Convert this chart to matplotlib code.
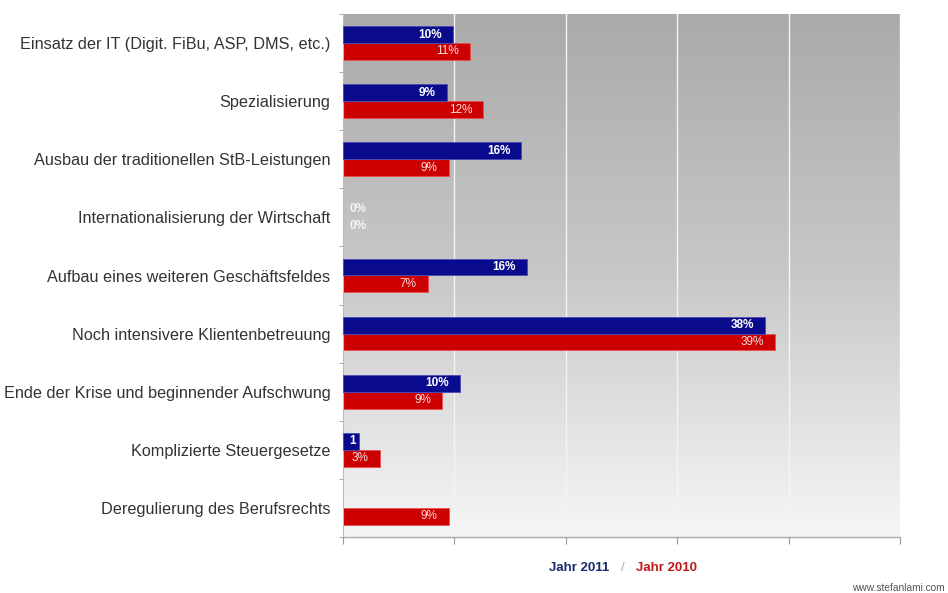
import matplotlib
matplotlib.use("Agg")
import matplotlib.pyplot as plt
import numpy as np
from matplotlib.colors import LinearSegmentedColormap

categories = [
    "Einsatz der IT (Digit. FiBu, ASP, DMS, etc.)",
    "Spezialisierung",
    "Ausbau der traditionellen StB-Leistungen",
    "Internationalisierung der Wirtschaft",
    "Aufbau eines weiteren Geschäftsfeldes",
    "Noch intensivere Klientenbetreuung",
    "Ende der Krise und beginnender Aufschwung",
    "Komplizierte Steuergesetze",
    "Deregulierung des Berufsrechts",
]
values_2011 = [9.9, 9.3, 16.0, 0.0, 16.5, 37.9, 10.5, 1.4, None]
labels_2011 = ["10%", "9%", "16%", "0%", "16%", "38%", "10%", "1", None]
values_2010 = [11.4, 12.6, 9.5, 0.0, 7.6, 38.8, 8.9, 3.3, 9.5]
labels_2010 = ["11%", "12%", "9%", "0%", "7%", "39%", "9%", "3%", "9%"]
x_ticks = [0, 10, 20, 30, 40, 50]
legend_2011 = "Jahr 2011"
legend_2010 = "Jahr 2010"
watermark = "www.stefanlami.com"

plt.rcParams['font.family'] = ['Liberation Sans', 'DejaVu Sans']

BLUE = "#0a0a8c"
RED = "#cc0000"

fig = plt.figure(figsize=(9.48, 5.93), dpi=100)
W, H = 948, 593
ax = fig.add_axes([343 / W, 1 - 537 / H, (900 - 343) / W, (537 - 14) / H])

n = len(categories)
y = np.arange(n)

# background gradient
cmap = LinearSegmentedColormap.from_list("bg", ["#aaaaaa", "#c8c8c8", "#f6f6f6"])
grad = np.linspace(0, 1, 256).reshape(-1, 1)
ax.imshow(grad, aspect="auto", cmap=cmap, extent=[0, 50, n - 0.5, -0.5],
          zorder=0, interpolation="bicubic")

for gx in x_ticks[1:]:
    ax.axvline(gx, color="#f4f4f4", lw=1.0, zorder=1)

h = 0.29
for i in range(n):
    v = values_2011[i]
    if v is not None and v > 0:
        ax.barh(y[i] - h / 2, v, height=h, color=BLUE, edgecolor="#4a4ab8",
                linewidth=0.6, zorder=3)
    v2 = values_2010[i]
    if v2 is not None and v2 > 0:
        ax.barh(y[i] + h / 2, v2, height=h, color=RED, edgecolor="#e85050",
                linewidth=0.6, zorder=2)

def put_label(val, txt, yy, color, weight):
    if txt is None:
        return
    if val == 0:
        ax.annotate(txt, (0, yy), xytext=(5, 0), textcoords="offset points",
                    ha="left", va="center", color="#f4f4f4", fontsize=8.5,
                    fontweight="bold", zorder=5)
    elif val < 2:
        ax.annotate(txt, (val, yy), xytext=(-2, 0), textcoords="offset points",
                    ha="right", va="center", color="white", fontsize=8.5,
                    fontweight="bold", zorder=5)
    else:
        ax.annotate(txt, (val, yy), xytext=(-8, 0), textcoords="offset points",
                    ha="right", va="center", color=color, fontsize=8.5,
                    fontweight=weight, zorder=5)

for i in range(n):
    put_label(values_2011[i], labels_2011[i], y[i] - h / 2, "white", "bold")
    put_label(values_2010[i], labels_2010[i], y[i] + h / 2, "#f7dede", "normal")

ax.set_xlim(0, 50)
ax.set_ylim(n - 0.5, -0.5)
ax.set_xticks(x_ticks)
ax.set_xticklabels([])
ax.tick_params(axis="x", direction="out", length=5, color="#999999", width=0.8)
ax.set_yticks(y)
ax.set_yticklabels(categories, fontsize=11.7, color="#333333")
ax.tick_params(axis="y", length=0, pad=9)
ax.set_yticks(np.arange(n + 1) - 0.5, minor=True)
ax.tick_params(axis="y", which="minor", direction="out", length=3, color="#999999")

for s in ["top", "right"]:
    ax.spines[s].set_visible(False)
ax.spines["left"].set_color("#bbbbbb")
ax.spines["bottom"].set_color("#aaaaaa")
ax.spines["left"].set_linewidth(0.8)
ax.spines["bottom"].set_linewidth(1.0)

# legend text
fig.text(579 / W, 1 - 568 / H, legend_2011, color="#1a2a6e", fontsize=9.5,
         fontweight="bold", ha="center", va="center")
fig.text(623 / W, 1 - 568 / H, "/", color="#aaaaaa", fontsize=9.5,
         ha="center", va="center")
fig.text(667 / W, 1 - 568 / H, legend_2010, color="#c01818", fontsize=9.5,
         fontweight="bold", ha="center", va="center")
fig.text(945 / W, 1 - 588 / H, watermark, color="#555555", fontsize=7.3,
         ha="right", va="center")

fig.savefig("out.png", dpi=100, facecolor="white")
